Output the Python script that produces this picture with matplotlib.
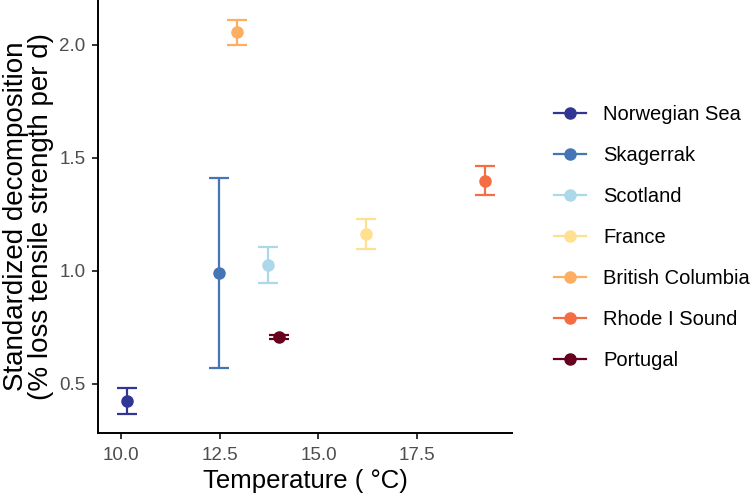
import matplotlib
matplotlib.use("Agg")
import matplotlib.pyplot as plt
from matplotlib.lines import Line2D

plt.rcParams['font.family'] = ['Liberation Sans', 'DejaVu Sans']

# data
sites = ["Norwegian Sea", "Skagerrak", "Scotland", "France",
         "British Columbia", "Rhode I Sound", "Portugal"]
temp = [10.17, 12.48, 13.72, 16.2, 12.93, 19.2, 14.01]
decomp = [0.426, 0.992, 1.026, 1.165, 2.056, 1.400, 0.707]
err_low = [0.369, 0.572, 0.945, 1.096, 2.001, 1.338, 0.697]
err_high = [0.481, 1.412, 1.107, 1.231, 2.111, 1.463, 0.715]
colors = ["#313695", "#4575b4", "#abd9e9", "#fee090",
          "#fdae61", "#f46d43", "#67001f"]

x_ticks = [10.0, 12.5, 15.0, 17.5]
y_ticks = [0.5, 1.0, 1.5, 2.0]

fig = plt.figure(figsize=(7.5, 4.96), dpi=100)
ax = fig.add_axes([98/750, 1 - 433/496, (512 - 98)/750, 433/496])

handles = []
for i in range(len(sites)):
    lo = decomp[i] - err_low[i]
    hi = err_high[i] - decomp[i]
    ax.errorbar([temp[i]], [decomp[i]], yerr=[[lo], [hi]], fmt='o',
                color=colors[i], ms=8, elinewidth=1.6, capsize=7,
                capthick=1.6, zorder=3)
    handles.append(Line2D([], [], color=colors[i], marker='o', ms=8, lw=1.6))

ax.set_xlim(9.43, 19.89)
ax.set_ylim(0.283, 2.199)
ax.set_xticks(x_ticks)
ax.set_xticklabels(["%.1f" % v for v in x_ticks])
ax.set_yticks(y_ticks)
ax.set_yticklabels(["%.1f" % v for v in y_ticks])

for s in ["top", "right"]:
    ax.spines[s].set_visible(False)
for s in ["left", "bottom"]:
    ax.spines[s].set_linewidth(1.4)
    ax.spines[s].set_color("black")
ax.tick_params(axis='both', length=4, width=1.4, color="#333333",
               labelsize=13.5, labelcolor="#4d4d4d")
ax.tick_params(axis='x', pad=6)
ax.tick_params(axis='y', pad=5)

ax.set_xlabel("Temperature ( \u00b0C)", fontsize=18.5, labelpad=4)
ax.set_ylabel("Standardized decomposition\n(% loss tensile strength per d)",
              fontsize=20, labelpad=4, linespacing=0.92)

fig.legend(handles, sites, loc='upper left', bbox_to_anchor=(554/750, 1 - 105/496),
           frameon=False, fontsize=14.5, handlelength=1.6, handletextpad=0.85,
           labelspacing=1.09, borderpad=0, borderaxespad=0)

fig.savefig("out.png", dpi=100)
